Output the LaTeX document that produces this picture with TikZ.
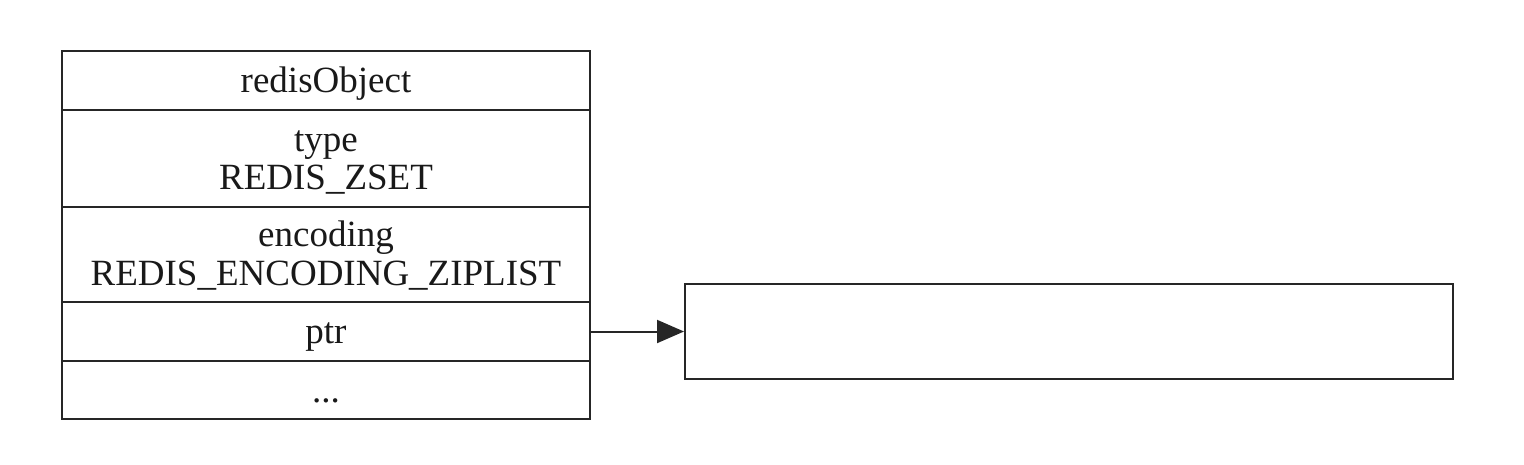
\documentclass[tikz,border=0pt]{standalone}
\usepackage{fontspec}
\setmainfont{Liberation Serif}
\usetikzlibrary{arrows.meta}
\begin{document}
\begin{tikzpicture}[x=1pt,y=-1pt,
  cell/.style={draw=black!85,line width=2pt,rectangle,inner sep=0pt,minimum width=528pt},
  lbl/.style={anchor=base,inner sep=0pt,font=\fontsize{37}{38}\selectfont,text=black!90},
  link/.style={line width=2pt,draw=black!85,-{Triangle[length=27pt,width=23pt]}}]
\useasboundingbox (0,0) rectangle (1524,464);
\node[cell,minimum height=59pt] (r1) at (326,80.5) {};
\node[cell,minimum height=97pt] (r2) at (326,158.5) {};
\node[cell,minimum height=95pt] (r3) at (326,254.5) {};
\node[cell,minimum height=59pt] (r4) at (326,331.5) {};
\node[cell,minimum height=58pt] (r5) at (326,390) {};
\node[lbl] (t1) at (326,92.5) {redisObject};
\node[lbl] (t2a) at (326,151.7) {type};
\node[lbl] (t2b) at (326,189) {REDIS\_ZSET};
\node[lbl] (t3a) at (326,246.7) {encoding};
\node[lbl] (t3b) at (326,285) {REDIS\_ENCODING\_ZIPLIST};
\node[lbl] (t4) at (326,343.5) {ptr};
\node[lbl] (t5) at (326,402) {...};
\node[draw=black!85,line width=2pt,rectangle,inner sep=0pt,minimum width=768pt,minimum height=95pt] (box) at (1069,331.5) {};
\draw[link] (r4.east) -- (box.west);
\end{tikzpicture}
\end{document}
